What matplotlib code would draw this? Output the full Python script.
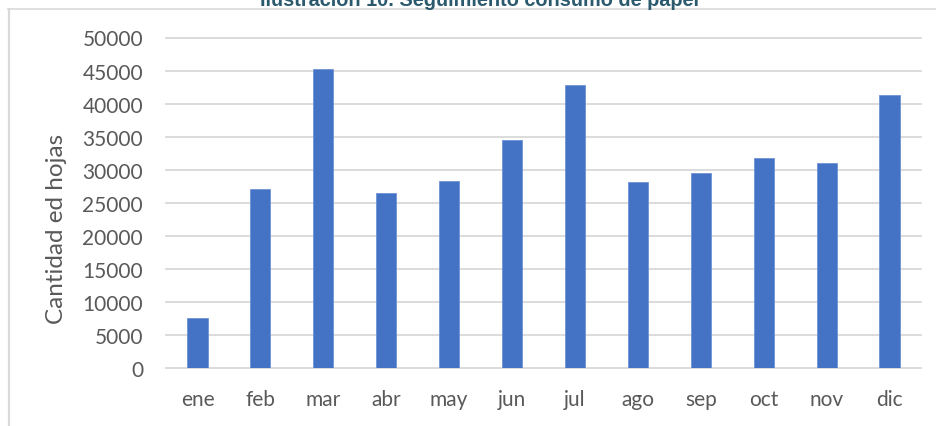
import matplotlib
matplotlib.use("Agg")
import matplotlib.pyplot as plt
from matplotlib.lines import Line2D
import numpy as np

months = ["ene", "feb", "mar", "abr", "may", "jun", "jul", "ago", "sep", "oct", "nov", "dic"]
hojas = [7600, 27150, 45300, 26450, 28300, 34550, 42800, 28100, 29550, 31800, 31050, 41300]
yticks = [0, 5000, 10000, 15000, 20000, 25000, 30000, 35000, 40000, 45000, 50000]
title = "Ilustración 10. Seguimiento consumo de papel"
ylabel = "Cantidad ed hojas"

W, H = 937, 427
fig = plt.figure(figsize=(W / 100, H / 100), dpi=100)
fig.patch.set_facecolor("white")

ax = fig.add_axes([166 / W, 1 - 369.3 / H, (921 - 166) / W, (369.3 - 38.5) / H])
x = np.arange(len(months))
ax.bar(x, hojas, width=0.32, color="#4472C4", edgecolor="#6F92D6", linewidth=0.6, zorder=3)
ax.set_xlim(-0.5, len(months) - 0.5)
ax.set_ylim(0, 50000)
ax.set_yticks(yticks)
ax.set_yticklabels([str(v) for v in yticks])
ax.set_xticks(x)
ax.set_xticklabels(months)
for s in ax.spines.values():
    s.set_visible(False)
ax.grid(axis="y", color="#D9D9D9", linewidth=1.3, zorder=0)
for gl in ax.get_ygridlines():
    gl.set_clip_on(False)
ax.tick_params(axis="both", length=0, labelsize=15, labelcolor="#595959")
ax.tick_params(axis="y", pad=16.5)
ax.tick_params(axis="x", pad=15)
for lab in ax.get_xticklabels() + ax.get_yticklabels():
    lab.set_fontfamily("Lato")

fig.text(57 / W, 1 - 229 / H, ylabel, rotation=90, ha="center", va="center",
         fontsize=17.5, color="#595959", fontfamily="Lato")

fig.text(480 / W, 1 - 5.7 / H, title, ha="center", va="baseline",
         fontsize=14.3, fontweight="bold", color="#2B5A6E", fontfamily="Liberation Sans")

fig.add_artist(Line2D([8.5 / W, 1], [1 - 9.5 / H, 1 - 9.5 / H], transform=fig.transFigure,
                      color="#D9D9D9", linewidth=1.2))
fig.add_artist(Line2D([9 / W, 9 / W], [0, 1 - 9.5 / H], transform=fig.transFigure,
                      color="#D9D9D9", linewidth=1.6))

fig.savefig("out.png", dpi=100, facecolor="white")
